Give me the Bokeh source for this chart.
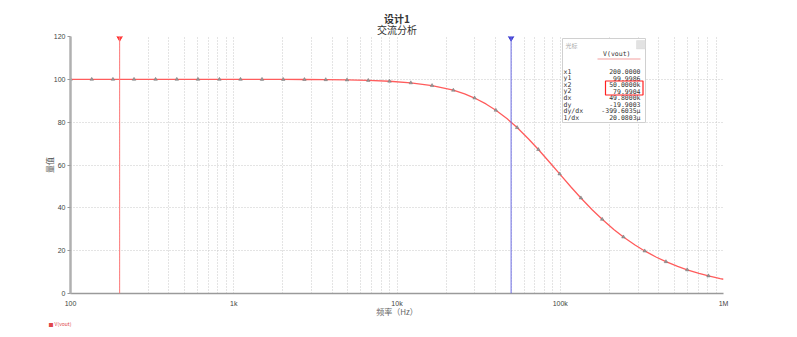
from bokeh.plotting import figure
from bokeh.models import (Range1d, FixedTicker, Label, BoxAnnotation, Span,
                          ColumnDataSource, Title)
from bokeh.embed import file_html
from bokeh.resources import INLINE

# ---------------- data ----------------
marker_freq = [100, 135, 182, 245, 332, 448, 604, 817, 1100, 1490, 2010,
               2710, 3660, 4940, 6670, 9000, 12150, 16400, 22130, 29870,
               40320, 54420, 73450, 99130, 133800, 180600, 243700, 329000,
               444000, 599300, 808900]
marker_mag = [100.0, 100.0, 100.0, 100.0, 100.0, 100.0, 100.0, 99.99, 99.99,
              99.98, 99.95, 99.92, 99.85, 99.73, 99.50, 99.10, 98.38, 97.10,
              94.92, 91.27, 85.58, 77.48, 67.22, 55.83, 44.62, 34.65, 26.40,
              19.87, 14.86, 11.06, 8.22]
extra_freq = [25950, 35060, 47320, 63970, 86300, 116700, 157400, 212800,
              287100, 388200, 523600, 707900, 955000, 1000000]
extra_mag = [93.19, 88.51, 81.56, 72.17, 61.15, 49.62, 39.01, 29.91, 22.63,
             16.93, 12.63, 9.38, 6.97, 6.65]

cursor1_x = 200.0
cursor2_x = 50000.0

x_ticks = [100, 1000, 10000, 100000, 1000000]
x_tick_labels = ["100", "1k", "10k", "100k", "1M"]
y_ticks = [0, 20, 40, 60, 80, 100, 120]

cursor_names = ["x1", "y1", "x2", "y2", "dx", "dy", "dy/dx", "1/dx"]
cursor_values = ["200.0000", "99.9986", "50.0000k", "79.9904", "49.8000k",
                 "-19.9003", "-399.6035μ", "20.0803μ"]

title_text = "设计1"
subtitle_text = "交流分析"
x_label = "频率（Hz）"
y_label = "量值"
series_name = "V(vout)"

# ---------------- layout ----------------
W, H = 797, 337
FL, FR, FT, FB = 70, 723, 36, 293
CJK = "Noto Sans CJK SC"


def xd(px):
    return 10 ** (2 + 4 * (px - FL) / (FR - FL))


def yd(py):
    return 120.0 * (FB - py) / (FB - FT)


p = figure(width=W, height=H, x_axis_type="log",
           x_range=Range1d(100, 1000000), y_range=Range1d(0, 120),
           output_backend="svg", toolbar_location=None, title=None,
           min_border_left=FL, min_border_right=W - FR,
           min_border_top=FT, min_border_bottom=H - FB)
p.outline_line_color = None
p.background_fill_color = "white"
p.border_fill_color = "white"

# titles (first added sits closest to the plot)
p.add_layout(Title(text=subtitle_text, align="center", text_font=CJK,
                   text_font_size="10px", text_font_style="normal",
                   text_color="#333333", standoff=0, offset=0), "above")
p.add_layout(Title(text=title_text, align="center", text_font=CJK,
                   text_font_size="10px", text_font_style="bold",
                   text_color="#333333", standoff=-12, offset=0), "above")

# axes
xa = p.xaxis[0]
xa.ticker = FixedTicker(ticks=x_ticks)
xa.major_label_overrides = {t: l for t, l in zip(x_ticks, x_tick_labels)}
xa.axis_line_color = "#9a9a9a"
xa.axis_line_width = 1.5
xa.major_tick_line_color = None
xa.minor_tick_line_color = None
xa.major_label_text_font = "Liberation Sans"
xa.major_label_text_font_size = "7px"
xa.major_label_text_color = "#444444"
xa.major_label_standoff = 0
xa.axis_label = x_label
xa.axis_label_text_font = CJK
xa.axis_label_text_font_size = "8px"
xa.axis_label_text_font_style = "normal"
xa.axis_label_text_color = "#666666"
xa.axis_label_standoff = -4

ya = p.yaxis[0]
ya.ticker = FixedTicker(ticks=y_ticks)
ya.axis_line_color = "#b0b0b0"
ya.axis_line_width = 2.5
ya.major_tick_line_color = "#999999"
ya.major_tick_out = 3
ya.major_tick_in = 0
ya.minor_tick_line_color = None
ya.major_label_text_font = "Liberation Sans"
ya.major_label_text_font_size = "7px"
ya.major_label_text_color = "#444444"
ya.major_label_standoff = 2
ya.axis_label = y_label
ya.axis_label_text_font = CJK
ya.axis_label_text_font_size = "8px"
ya.axis_label_text_font_style = "normal"
ya.axis_label_text_color = "#555555"
ya.axis_label_standoff = -4

# legend-like caption at the bottom left
p.add_layout(Title(text="■ " + series_name, align="left", text_font=CJK,
                   text_font_size="5px", text_font_style="normal",
                   text_color="#e04848", standoff=-4, offset=-22), "below")

# grids
grid_x = []
for d in [100, 1000, 10000, 100000]:
    for m in range(1, 10):
        grid_x.append(d * m)
grid_x.append(1000000)
p.xgrid[0].ticker = FixedTicker(ticks=grid_x)
p.xgrid[0].grid_line_color = "#c8c8c8"
p.xgrid[0].grid_line_dash = "1 2"
p.ygrid[0].ticker = FixedTicker(ticks=y_ticks[1:])
p.ygrid[0].grid_line_color = "#c8c8c8"
p.ygrid[0].grid_line_dash = "1 2"

# cursors
p.add_layout(Span(location=cursor1_x, dimension="height",
                  line_color="#ff7a7a", line_width=1))
p.add_layout(Span(location=cursor2_x, dimension="height",
                  line_color="#6e6ee6", line_width=1))

# curve
pts = sorted(zip(marker_freq + extra_freq, marker_mag + extra_mag))
line_src = ColumnDataSource(dict(f=[a for a, b in pts], m=[b for a, b in pts]))
p.line("f", "m", source=line_src, line_color="#ff5c5c", line_width=1.3)
p.scatter(marker_freq, marker_mag, marker="triangle", size=3.5,
          line_color="#777777", fill_color="#999999", line_width=0.5)

# cursor top handles
p.scatter([cursor1_x], [120], marker="inverted_triangle", size=8,
          color="#ff3030")
p.scatter([cursor2_x], [120], marker="inverted_triangle", size=8,
          color="#3a3ad0")

# cursor info box
p.add_layout(BoxAnnotation(left=xd(562), right=xd(645), top=yd(38),
                           bottom=yd(122), fill_color="white", fill_alpha=1.0,
                           line_color="#d0d0d0", line_alpha=1.0,
                           line_width=1))
p.add_layout(BoxAnnotation(left=xd(636), right=xd(645), top=yd(40),
                           bottom=yd(48.5), fill_color="#e2e2e2",
                           fill_alpha=1.0, line_color="#cccccc",
                           line_width=1))
p.add_layout(Label(x=xd(565), y=yd(45), text="光标", text_baseline="middle",
                   text_font=CJK, text_font_size="6px",
                   text_color="#aaaaaa"))
p.add_layout(Label(x=xd(630), y=yd(53), text=series_name, text_align="right",
                   text_baseline="middle", text_font="DejaVu Sans Mono",
                   text_font_size="6.5px", text_color="#333333"))
p.add_layout(BoxAnnotation(left=xd(597), right=xd(640), top=yd(58),
                           bottom=yd(59), fill_color="#f4a0a0",
                           fill_alpha=1.0, line_color=None))
for i, (nm, vl) in enumerate(zip(cursor_names, cursor_values)):
    yy = yd(71.3 + i * 6.55)
    p.add_layout(Label(x=xd(563), y=yy, text=nm, text_baseline="middle",
                       text_font="DejaVu Sans Mono", text_font_size="6.5px",
                       text_color="#333333"))
    p.add_layout(Label(x=xd(640), y=yy, text=vl, text_align="right",
                       text_baseline="middle", text_font="DejaVu Sans Mono",
                       text_font_size="6.5px", text_color="#333333"))
p.add_layout(BoxAnnotation(left=xd(605), right=xd(642.5), top=yd(80.5),
                           bottom=yd(94.5), fill_color=None,
                           line_color="#ff2020", line_alpha=1.0,
                           line_width=1.2))

open("out.html", "w").write(file_html(p, INLINE))
